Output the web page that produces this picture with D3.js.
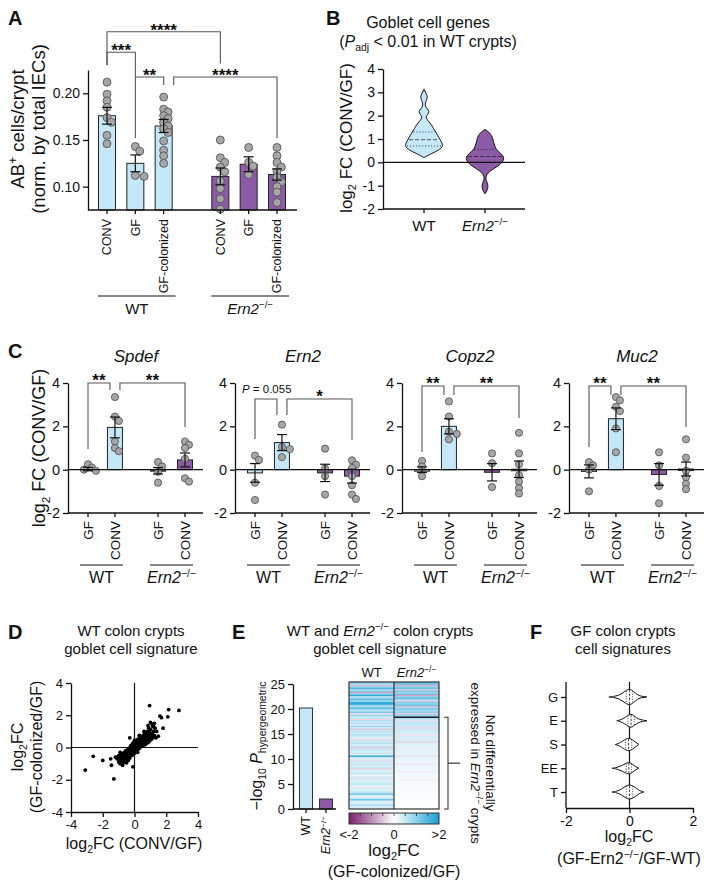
<!DOCTYPE html>
<html>
<head>
<meta charset="utf-8">
<script src="https://cdn.jsdelivr.net/npm/d3@7"></script>
<style>
body { margin: 0; background: #fff; }
svg text { font-family: "Liberation Sans", Arial, sans-serif; fill: #111; }
</style>
</head>
<body>
<svg id="fig" width="708" height="885"></svg>
<script>
// ---- data ----
// A: AB+ cells per crypt
const aGroups = ['WT', 'Ern2'];
const aConditions = ['CONV', 'GF', 'GF-colonized', 'CONV', 'GF', 'GF-colonized'];
const aMean = [0.176, 0.125, 0.165, 0.111, 0.124, 0.113];
const aSem = [0.009, 0.009, 0.007, 0.009, 0.008, 0.006];
const aPoints = [
    [0.212, 0.199, 0.192, 0.185, 0.174, 0.169, 0.155, 0.146],
    [0.143, 0.138, 0.112, 0.111],
    [0.196, 0.183, 0.180, 0.176, 0.173, 0.169, 0.165, 0.162, 0.158, 0.149, 0.139, 0.133, 0.125],
    [0.150, 0.131, 0.126, 0.121, 0.116, 0.106, 0.098, 0.087, 0.076],
    [0.142, 0.126, 0.122, 0.113],
    [0.142, 0.133, 0.126, 0.121, 0.116, 0.110, 0.105, 0.100, 0.094, 0.083],
];
// [from, to, level, dropFrom, dropTo, label]
const aBrackets = [
    [0, 3, 0.266, 0.230, 0.232, '****'],
    [0, 1, 0.244, 0.230, 0.152, '***'],
    [1, 2, 0.2175, 0.2175, 0.209, '**'],
    [2, 5, 0.2175, 0.209, 0.152, '****'],
];

// B: violin profiles [log2FC, density]
const bGroups = ['WT', 'Ern2'];
const bViolinWT = [[0.2, 0], [0.3, 0.2], [0.45, 0.6], [0.6, 0.92], [0.75, 1.0], [0.9, 0.9], [1.05, 0.8], [1.25, 0.65],
    [1.45, 0.5], [1.6, 0.4], [1.75, 0.25], [1.9, 0.1], [2.0, 0.12], [2.12, 0.27], [2.22, 0.25], [2.35, 0.1],
    [2.5, 0.05], [2.65, 0.12], [2.8, 0.2], [2.95, 0.1], [3.15, 0]];
const bViolinKO = [[-1.35, 0], [-1.2, 0.12], [-1.05, 0.16], [-0.9, 0.14], [-0.75, 0.04], [-0.6, 0.05], [-0.45, 0.15],
    [-0.3, 0.4], [-0.15, 0.7], [0.0, 0.92], [0.15, 1.0], [0.3, 0.95], [0.45, 0.72], [0.6, 0.55], [0.8, 0.47],
    [1.0, 0.42], [1.15, 0.35], [1.3, 0.2], [1.42, 0]];
const bQuartiles = [[0.7, 0.97, 1.3], [0.0, 0.25, 0.55]];

// C: qPCR per gene, order WT GF, WT CONV, Ern2 GF, Ern2 CONV
const cGenes = ['Spdef', 'Ern2', 'Copz2', 'Muc2'];
const cConditions = ['GF', 'CONV', 'GF', 'CONV'];
const cMean = [
    [0.03, 1.95, -0.05, 0.45],
    [-0.15, 1.25, -0.15, -0.3],
    [0.0, 2.0, -0.12, 0.02],
    [-0.08, 2.35, -0.22, 0.03],
];
const cSem = [
    [0.08, 0.48, 0.15, 0.32],
    [0.43, 0.37, 0.4, 0.32],
    [0.13, 0.35, 0.4, 0.38],
    [0.3, 0.5, 0.5, 0.32],
];
const cPoints = [
    [[0.25, 0.1, 0.0, -0.05], [3.35, 2.45, 2.25, 1.3, 1.0, 0.85], [0.35, 0.15, -0.1, -0.6], [1.3, 1.15, 1.0, 0.5, -0.4, -0.55]],
    [[0.65, 0.45, -0.6, -1.4], [2.08, 1.05, 0.95, 0.58], [0.97, 0.05, -0.3, -1.15], [0.43, 0.23, 0.08, -0.3, -0.72, -1.15, -1.35]],
    [[0.4, 0.15, -0.3], [3.15, 2.45, 1.75, 1.65, 1.4], [0.75, 0.3, -0.8], [1.7, 0.75, 0.25, -0.25, -0.55, -0.85, -1.1]],
    [[0.35, 0.2, 0.0, -1.0], [3.35, 3.2, 2.9, 2.7, 1.9, 0.8], [0.8, 0.2, -0.75, -1.55], [1.4, 0.55, -0.05, -0.35, -0.65, -0.9]],
];
// [level, drop at WT GF, drop at WT CONV, drop at Ern2 CONV]
const cBrackets = [
    [4.0, 0.95, 3.68, 1.97],
    [3.26, 1.42, 2.52, 1.37],
    [3.86, 0.82, 3.45, 2.39],
    [3.86, 1.05, 3.45, 1.97],
];
const cBracketLabels = [['**', '**'], ['P = 0.055', '*'], ['**', '**'], ['**', '**']];

// D: scatter log2FC (CONV/GF) vs log2FC (GF-colonized/GF)
const dPoints = [
    [-3.1, -1.4], [-2.6, -0.55], [-2.0, -0.8], [-1.3, -1.95], [0.95, 2.6], [1.6, 1.95], [1.7, 1.85], [2.15, 2.35],
    [2.1, 1.9], [2.8, 2.3], [-1.5, -0.7], [-1.45, -1.1], [-1.2, -0.6], [-0.1, -1.2], [-0.3, 0.6], [1.8, 1.2], [1.5, 0.7],
    [-1.1, -0.7], [-1.0, -0.9], [-0.95, -0.6], [-0.9, -1.0], [-0.9, -0.75], [-0.85, -0.5], [-0.8, -0.85], [-0.8, -0.65],
    [-0.75, -0.4], [-0.75, -1.1], [-0.7, -0.7], [-0.7, -0.55], [-0.65, -0.9], [-0.65, -0.3], [-0.6, -0.6], [-0.6, -0.45],
    [-0.55, -0.75], [-0.55, -0.2], [-0.5, -0.5], [-0.5, -0.35], [-0.5, -0.95], [-0.45, -0.6], [-0.45, -0.15], [-0.4, -0.4],
    [-0.4, -0.25], [-0.4, -0.8], [-0.35, -0.5], [-0.35, -0.05], [-0.3, -0.3], [-0.3, -0.65], [-0.3, -0.15], [-0.25, -0.4],
    [-0.25, 0.1], [-0.2, -0.2], [-0.2, -0.5], [-0.2, 0.0], [-0.15, -0.3], [-0.15, 0.2], [-0.1, -0.1], [-0.1, -0.45],
    [-0.1, 0.1], [-0.05, -0.2], [-0.05, 0.3], [0.0, 0.0], [0.0, -0.35], [0.0, 0.15], [0.05, -0.1], [0.05, 0.25],
    [0.1, 0.1], [0.1, -0.25], [0.1, 0.4], [0.15, 0.0], [0.15, 0.2], [0.2, 0.3], [0.2, -0.15], [0.2, 0.5], [0.25, 0.1],
    [0.25, 0.35], [0.3, 0.2], [0.3, 0.55], [0.3, -0.05], [0.35, 0.4], [0.35, 0.15], [0.4, 0.3], [0.4, 0.6], [0.4, 0.05],
    [0.45, 0.45], [0.45, 0.2], [0.5, 0.35], [0.5, 0.7], [0.5, 0.1], [0.55, 0.5], [0.55, 0.25], [0.6, 0.4], [0.6, 0.8],
    [0.6, 0.15], [0.65, 0.55], [0.65, 0.3], [0.7, 0.45], [0.7, 0.9], [0.7, 0.2], [0.75, 0.6], [0.75, 0.35], [0.8, 0.5],
    [0.8, 1.0], [0.85, 0.7], [0.85, 0.3], [0.9, 0.55], [0.9, 0.85], [0.95, 0.4], [1.0, 0.7], [1.0, 1.1], [1.05, 0.5],
    [1.1, 0.85], [1.1, 1.45], [1.15, 0.6], [1.2, 1.0], [1.25, 0.75], [1.3, 1.2], [1.35, 0.6], [1.0, 1.55], [1.15, 1.3],
    [0.9, 1.2], [-0.6, -0.3], [-0.5, -0.65], [-0.4, -0.55], [-0.3, -0.45], [-0.2, -0.35], [-0.1, -0.25], [0.0, -0.15],
    [0.1, 0.0], [0.2, 0.05], [0.3, 0.35], [0.4, 0.45], [0.5, 0.55], [0.6, 0.6], [0.7, 0.65], [0.15, -0.05], [0.05, 0.05],
    [-0.05, -0.05], [0.25, 0.25], [0.35, 0.3], [0.45, 0.35], [0.55, 0.4], [-0.25, -0.25], [-0.35, -0.3], [-0.45, -0.45],
    [-0.55, -0.55], [-0.65, -0.55], [-0.7, -0.9], [-0.8, -0.45], [0.8, 0.75], [0.9, 0.65], [1.0, 0.85], [1.1, 0.7],
    [0.95, 0.95], [1.2, 0.65], [0.75, 0.75], [0.65, 0.7], [-0.15, 0.05], [0.0, 0.45], [-0.1, 0.25], [0.2, -0.3],
    [1.2, 1.3], [1.4, 1.0], [0.6, 1.0], [-0.9, -0.3], [-1.0, -0.5], [0.3, 0.75], [0.85, 1.35], [1.25, 1.5],
];

// E: enrichment bars and heatmap of log2FC (GF-colonized/GF)
const eBarGroups = ['WT', 'Ern2'];
const eBarValues = [20.2, 2.0];
const eHeatWT = [
    1.1, 0.8, -0.6, 0.9, 1.5, 0.8, 1.0, -0.9, 0.9, 1.8, 0.7, 0.9, 1.4, 0.8, 1.6, 2.0, 0.9, 0.7, 1.5, 0.8, 0.6, 1.2, -0.3, 0.8, 0.6,
    0.5, -0.4, 0.7, 0.45, 0.6, 0.35, 0.8, 0.45, -0.5, 0.5, 0.6, 0.35, 0.7, 0.45, 0.3, -0.3, 0.5, 0.45, 0.6, 0.35, 0.5, -0.5, 0.45, 0.5, 0.35, 0.45,
    0.3, 1.8, 0.5, 0.35, -0.3, 0.45, 0.35, 0.5, 0.3, 0.45, -0.4, 0.35, 0.3, 0.5, 0.35, 0.2, 0.45, -0.3, 0.35, 0.3, 0.45, 0.5, 0.3, -0.2,
    0.35, 0.3, 0.45, 0.6, 1.2, 0.35, 0.3, 0.5, 1.3, 0.35, 0.3, 0.45, 0.7, 0.35, 0.3,
];
const eHeatKO = [
    1.4, 1.2, -0.7, 1.0, 1.3, -0.5, 1.1, 0.9, 1.2, -0.8, 1.0, 1.3, 0.9, -0.4, 1.1, 1.0, 1.2, -0.6, 0.9, 1.1, 0.8, 1.0, -0.5, 0.9, 1.0,
    0.6, 0.55, -0.3, 0.55, 0.5, 0.5, 0.45, -0.35, 0.45, 0.45, 0.4, 0.4, -0.25, 0.4, 0.35, 0.35, 0.35, -0.4, 0.3, 0.3,
    0.3, 0.3, -0.2, 0.28, 0.26, 0.25, 0.25, -0.3, 0.23, 0.22, 0.2, 0.2, 0.2, -0.25, 0.18, 0.17, 0.16, 0.15, -0.2, 0.14,
    0.13, 0.12, 0.12, 0.11, -0.15, 0.1, 0.09, 0.09, 0.08, 0.07, -0.1, 0.06, 0.05, 0.05, 0.04, 0.04, 0.03, 0.03, 0.02, 0.02,
    0.01, 0.01, 0.01, 0.0, 0.0,
];
const eSignificantRows = 25;
const eColorStops = [-2, 0, 2];
const eColorTicks = ['<-2', '0', '>2'];

// F: violin profiles [log2FC, density] per signature
const fCategories = ['G', 'E', 'S', 'EE', 'T'];
const fProfiles = [
    [[-0.65, 0], [-0.5, 0.07], [-0.35, 0.18], [-0.2, 0.55], [-0.08, 0.9], [0, 1], [0.08, 0.85], [0.18, 0.5], [0.3, 0.15], [0.42, 0.07], [0.55, 0]],
    [[-0.4, 0], [-0.3, 0.08], [-0.15, 0.35], [-0.05, 0.7], [0.05, 0.85], [0.12, 0.7], [0.22, 0.35], [0.35, 0.12], [0.55, 0]],
    [[-0.45, 0], [-0.35, 0.1], [-0.22, 0.4], [-0.1, 0.75], [-0.02, 0.8], [0.08, 0.65], [0.18, 0.3], [0.3, 0]],
    [[-0.55, 0], [-0.4, 0.08], [-0.2, 0.4], [-0.08, 0.7], [0, 0.72], [0.08, 0.55], [0.18, 0.2], [0.3, 0]],
    [[-0.55, 0], [-0.4, 0.08], [-0.25, 0.35], [-0.1, 0.8], [0, 0.9], [0.1, 0.8], [0.22, 0.45], [0.32, 0.15], [0.45, 0]],
];
const fQuartiles = [[-0.1, 0.0, 0.1], [-0.05, 0.05, 0.15], [-0.12, -0.03, 0.07], [-0.1, -0.02, 0.06], [-0.1, 0.0, 0.1]];

// ---- style ----
const BLUE = '#c5e8f8';
const PURPLE = '#8d5aa7';
const DOT = '#a6a6a6';
const INK = '#111';

const svg = d3.select('#fig');

// text with _{sub}, ^{sup} and *italic* markup
function rich(text, str, fs) {
    const re = /_\{([^}]*)\}|\^\{([^}]*)\}|\*([^*]*)\*|([^_^*]+)/g;
    let m, shift = 0;
    while ((m = re.exec(str))) {
        let t, target = 0, small = false, ital = false;
        if (m[1] !== undefined) { t = m[1]; target = fs * 0.25; small = true; }
        else if (m[2] !== undefined) { t = m[2]; target = -fs * 0.38; small = true; }
        else if (m[3] !== undefined) { t = m[3]; ital = true; }
        else t = m[4];
        const ts = text.append('tspan').text(t);
        if (target - shift) ts.attr('dy', target - shift);
        shift = target;
        if (small) ts.style('font-size', `${fs * 0.65}px`);
        if (ital) ts.style('font-style', 'italic');
    }
    return text;
}

function label(g, x, y, str, fs, opts = {}) {
    const t = g.append('text')
        .attr('x', x).attr('y', y)
        .attr('text-anchor', opts.anchor || 'middle')
        .style('font-size', `${fs}px`);
    if (opts.rotate) t.attr('transform', `rotate(${opts.rotate},${x},${y})`);
    if (opts.weight) t.style('font-weight', opts.weight);
    if (opts.dy) t.attr('dy', opts.dy);
    return opts.raw ? t.text(str) : rich(t, str, fs);
}

function stars(g, x, y, str) {
    return label(g, x, y, str, 17, { weight: 'bold', raw: true });
}

function styleAxis(g, fs) {
    g.select('.domain').attr('stroke', INK).attr('stroke-width', 1.3);
    g.selectAll('.tick line').attr('stroke', INK).attr('stroke-width', 1.3);
    g.selectAll('.tick text').style('font-size', `${fs}px`).attr('fill', INK);
    return g;
}

function hline(g, x1, x2, y, w = 1.3, color = INK) {
    return g.append('line').attr('x1', x1).attr('x2', x2).attr('y1', y).attr('y2', y)
        .attr('stroke', color).attr('stroke-width', w);
}

function vline(g, x, y1, y2, w = 1.3, color = INK) {
    return g.append('line').attr('x1', x).attr('x2', x).attr('y1', y1).attr('y2', y2)
        .attr('stroke', color).attr('stroke-width', w);
}

// simple column swarm so that stacked dots stay mostly on the centre line
function swarm(values, y, cx, r) {
    const placed = [];
    return values.map(v => {
        const py = y(v);
        let px = cx;
        for (const k of [0, 1, -1, 2, -2]) {
            px = cx + k * r * 1.1;
            if (placed.every(p => Math.hypot(p[0] - px, p[1] - py) >= r * 1.3)) break;
        }
        placed.push([px, py]);
        return [px, py];
    });
}

function dots(g, values, y, cx, r) {
    g.selectAll(null)
        .data(swarm(values, y, cx, r))
        .enter()
        .append('circle')
        .attr('cx', d => d[0]).attr('cy', d => d[1]).attr('r', r)
        .attr('fill', DOT).attr('stroke', '#4a4a4a').attr('stroke-width', 0.8);
}

function errorBar(g, cx, y, mean, sem, cap) {
    vline(g, cx, y(mean - sem), y(mean + sem), 1.2);
    hline(g, cx - cap / 2, cx + cap / 2, y(mean + sem), 1.2);
    hline(g, cx - cap / 2, cx + cap / 2, y(mean - sem), 1.2);
}

function bracket(g, xa, xb, ya, level, yb) {
    g.append('path')
        .attr('d', `M${xa},${ya}V${level}H${xb}V${yb}`)
        .attr('fill', 'none').attr('stroke', '#555').attr('stroke-width', 1.1);
}

function panelLetter(x, y, s) {
    svg.append('text').attr('x', x).attr('y', y).text(s)
        .style('font-size', '20px').style('font-weight', 'bold');
}

const plain = d => String(d);

// ---- A ----
(function panelA() {
    const g = svg.append('g');
    const y = d3.scaleLinear().domain([0.075, 0.225]).range([210, 70]);
    const slots = [0, 1, 2, 4, 5, 6];
    const x = d3.scaleLinear().domain([0, 6]).range([107, 277]);
    const left = 88, right = 297;

    panelLetter(8, 25, 'A');

    g.append('g').attr('transform', `translate(${left},0)`)
        .call(d3.axisLeft(y).tickValues([0.10, 0.15, 0.20]).tickFormat(d3.format('.2f')).tickSize(5).tickSizeOuter(0))
        .call(a => styleAxis(a, 14));

    aMean.forEach((m, i) => {
        const cx = x(slots[i]);
        g.append('rect')
            .attr('x', cx - 8.5).attr('width', 17)
            .attr('y', y(m)).attr('height', y.range()[0] - y(m))
            .attr('fill', i < 3 ? BLUE : PURPLE).attr('stroke', '#222').attr('stroke-width', 1);
        dots(g, aPoints[i], y, cx, 4);
        errorBar(g, cx, y, m, aSem[i], 10);
        vline(g, cx, 210, 214);
        label(g, cx, 219, aConditions[i], 12.5, { rotate: -90, anchor: 'end', dy: '0.35em' });
    });
    hline(g, left, right, 210);

    aGroups.forEach((grp, gi) => {
        const x1 = x(slots[gi * 3]) - 9, x2 = x(slots[gi * 3 + 2]) + 12;
        hline(g, x1, x2, 296, 1);
        label(g, (x1 + x2) / 2, 314, grp === 'WT' ? 'WT' : '*Ern2*^{−/−}', 15);
    });

    aBrackets.forEach(([a, b, level, da, db, txt], i) => {
        const xa = x(slots[a]) + (i === 3 ? 10 : 0);
        const xb = x(slots[b]);
        bracket(g, xa, xb, y(da), y(level), y(db));
        stars(g, (xa + xb) / 2, y(level) + 4, txt);
    });

    label(g, 24, 129, 'AB^{+} cells/crypt', 18.5, { rotate: -90 });
    label(g, 45, 129, '(norm. by total IECs)', 18.5, { rotate: -90 });
})();

// ---- B ----
function halfAt(profile, v) {
    for (let i = 1; i < profile.length; i++) {
        const [a, da] = profile[i - 1], [b, db] = profile[i];
        if (v >= a && v <= b) return da + (db - da) * (v - a) / (b - a);
    }
    return 0;
}

(function panelB() {
    const g = svg.append('g');
    const y = d3.scaleLinear().domain([-2, 4]).range([209, 69]);
    const x = d3.scalePoint().domain(bGroups).range([424, 485]);
    const w = d3.scaleLinear().domain([0, 1]).range([0, 19]);
    const left = 383, right = 525;

    panelLetter(326, 25, 'B');
    label(g, 428, 28, 'Goblet cell genes', 16);
    label(g, 428, 47, '(*P*_{adj} < 0.01 in WT crypts)', 16);

    g.append('g').attr('transform', `translate(${left},0)`)
        .call(d3.axisLeft(y).tickValues(d3.range(-2, 5)).tickFormat(plain).tickSize(5).tickSizeOuter(0))
        .call(a => styleAxis(a, 14));
    hline(g, left, right, 209);

    const profiles = [bViolinWT, bViolinKO];
    bGroups.forEach((grp, i) => {
        const cx = x(grp);
        const p = profiles[i];
        g.append('path')
            .datum(p)
            .attr('d', d3.area().y(d => y(d[0])).x0(d => cx - w(d[1])).x1(d => cx + w(d[1])).curve(d3.curveBasis))
            .attr('fill', i === 0 ? BLUE : PURPLE).attr('stroke', INK).attr('stroke-width', 1);
        bQuartiles[i].forEach((q, k) => {
            const hw = w(halfAt(p, q)) * 0.92;
            hline(g, cx - hw, cx + hw, y(q), 1, i === 0 ? '#555' : '#333')
                .attr('stroke-dasharray', k === 1 ? '4,2' : '1.2,1.8');
        });
        vline(g, cx, 209, 213);
        label(g, cx, 231, grp === 'WT' ? 'WT' : '*Ern2*^{−/−}', 15);
    });
    hline(g, left, right, y(0));

    label(g, 352, 138, 'log_{2} FC (CONV/GF)', 17, { rotate: -90 });
})();

// ---- C ----
(function panelC() {
    const y = d3.scaleLinear().domain([-2, 4]).range([513, 383]);
    const slots = [0, 1, 2.6, 3.6];
    panelLetter(8, 358, 'C');
    label(svg, 45, 448, 'log_{2} FC (CONV/GF)', 18, { rotate: -90 });

    cGenes.forEach((gene, gi) => {
        const ax = 68 + gi * 167;
        const g = svg.append('g');
        const x = d3.scaleLinear().domain([0, 3.6]).range([ax + 20, ax + 117]);

        label(g, ax + 68, 362, `*${gene}*`, 17);
        g.append('g').attr('transform', `translate(${ax},0)`)
            .call(d3.axisLeft(y).tickValues([-2, 0, 2, 4]).tickFormat(plain).tickSize(5).tickSizeOuter(0))
            .call(a => styleAxis(a, 14.5));
        hline(g, ax, ax + 135, 513);

        cMean[gi].forEach((m, i) => {
            const cx = x(slots[i]);
            const top = Math.min(y(m), y(0)), h = Math.abs(y(m) - y(0));
            g.append('rect')
                .attr('x', cx - 7.5).attr('width', 15)
                .attr('y', top).attr('height', Math.max(h, 1.5))
                .attr('fill', i < 2 ? BLUE : PURPLE).attr('stroke', '#222').attr('stroke-width', 1);
            dots(g, cPoints[gi][i], y, cx, 3.6);
            errorBar(g, cx, y, m, cSem[gi][i], 10);
            vline(g, cx, 513, 517);
            label(g, cx, 521, cConditions[i], 13.5, { rotate: -90, anchor: 'end', dy: '0.35em' });
        });
        hline(g, ax, ax + 135, y(0));

        [[0, 1], [2, 3]].forEach(([a, b], k) => {
            const x1 = x(slots[a]) - 8, x2 = x(slots[b]) + 8;
            hline(g, x1, x2, 565, 1);
            label(g, (x1 + x2) / 2, 583, k === 0 ? 'WT' : '*Ern2*^{−/−}', 16);
        });

        const [level, dGF, dCONV, dKO] = cBrackets[gi];
        const [l1, l2] = cBracketLabels[gi];
        const xGF = x(slots[0]), xCONV = x(slots[1]), xKO = x(slots[3]);
        bracket(g, xGF, xCONV - 5, y(dGF), y(level), y(dCONV));
        bracket(g, xCONV + 5, xKO, y(dCONV), y(level), y(dKO));
        if (l1.startsWith('P')) {
            label(g, ax + 7, y(level) - 6, '*P* = 0.055', 11.5, { anchor: 'start' });
        } else {
            stars(g, (xGF + xCONV - 5) / 2, y(level) + 3, l1);
        }
        stars(g, (xCONV + 5 + xKO) / 2, y(level) + 3, l2);
    });
})();

// ---- D ----
(function panelD() {
    const g = svg.append('g');
    const x = d3.scaleLinear().domain([-4, 4]).range([71, 198]);
    const y = d3.scaleLinear().domain([-4, 4]).range([812, 683]);
    const ticks = [-4, -2, 0, 2, 4];

    panelLetter(8, 639, 'D');
    label(g, 131, 636, 'WT colon crypts', 15);
    label(g, 131, 654, 'goblet cell signature', 15);

    g.append('g').attr('transform', `translate(${x(-4)},0)`)
        .call(d3.axisLeft(y).tickValues(ticks).tickFormat(plain).tickSize(5).tickSizeOuter(0))
        .call(a => styleAxis(a, 13));
    g.append('g').attr('transform', `translate(0,${y(-4)})`)
        .call(d3.axisBottom(x).tickValues(ticks).tickFormat(plain).tickSize(5).tickSizeOuter(0))
        .call(a => styleAxis(a, 13));
    vline(g, x(0), y(4), y(-4), 1.2);
    hline(g, x(-4), x(4), y(0), 1.2);

    g.selectAll('.pt').data(dPoints).enter().append('circle')
        .attr('cx', d => x(d[0])).attr('cy', d => y(d[1])).attr('r', 1.9).attr('fill', '#000');

    label(g, 23, 747, 'log_{2}FC', 16, { rotate: -90 });
    label(g, 42, 747, '(GF-colonized/GF)', 16, { rotate: -90 });
    label(g, 134, 849, 'log_{2}FC (CONV/GF)', 16);
})();

// ---- E ----
(function panelE() {
    const g = svg.append('g');
    const y = d3.scaleLinear().domain([0, 25]).range([809, 684]);
    const x = d3.scalePoint().domain(eBarGroups).range([306, 326]);

    panelLetter(232, 639, 'E');
    label(g, 380, 636, 'WT and *Ern2*^{−/−} colon crypts', 15);
    label(g, 380, 654, 'goblet cell signature', 15);

    g.append('g').attr('transform', 'translate(293,0)')
        .call(d3.axisLeft(y).tickValues(d3.range(0, 26, 5)).tickFormat(plain).tickSize(5).tickSizeOuter(0))
        .call(a => styleAxis(a, 13));
    eBarGroups.forEach((grp, i) => {
        const cx = x(grp);
        g.append('rect')
            .attr('x', cx - 6.5).attr('width', 13)
            .attr('y', y(eBarValues[i])).attr('height', y(0) - y(eBarValues[i]))
            .attr('fill', i === 0 ? BLUE : PURPLE).attr('stroke', '#333').attr('stroke-width', 1);
        vline(g, cx, 809, 813);
        label(g, cx, 816, grp === 'WT' ? 'WT' : '*Ern2*^{−/−}', 12.5, { rotate: -90, anchor: 'end', dy: '0.35em' });
    });
    hline(g, 293, 336, 809);
    label(g, 262, 746, '−log_{10} *P*_{hypergeometric}', 16, { rotate: -90 });

    // heatmap
    const color = d3.scaleLinear().domain(eColorStops).range(['#7b1f70', '#ffffff', '#189fd6'])
        .interpolate(d3.interpolateRgb).clamp(true);
    const hx = d3.scaleBand().domain(eBarGroups).range([349, 439]);
    const hy = d3.scaleBand().domain(d3.range(eHeatWT.length)).range([682, 809]);
    [eHeatWT, eHeatKO].forEach((col, ci) => {
        g.selectAll(null).data(col).enter().append('rect')
            .attr('x', hx(eBarGroups[ci])).attr('width', hx.bandwidth())
            .attr('y', (d, i) => hy(i)).attr('height', hy.bandwidth() + 0.4)
            .attr('fill', d => color(d));
    });
    g.append('rect').attr('x', 349).attr('y', 682).attr('width', 90).attr('height', 127)
        .attr('fill', 'none').attr('stroke', '#333').attr('stroke-width', 1.2);
    vline(g, hx('Ern2'), 682, 809, 1.2, '#333');
    const split = hy(eSignificantRows);
    hline(g, hx('Ern2'), 439, split, 1.5, '#222');
    label(g, hx('WT') + hx.bandwidth() / 2, 677, 'WT', 13);
    label(g, hx('Ern2') + hx.bandwidth() / 2, 677, '*Ern2*^{−/−}', 13);

    // bracket for non-differential genes
    g.append('path').attr('d', `M444,${split}H448V809H444`)
        .attr('fill', 'none').attr('stroke', '#333').attr('stroke-width', 1.1);
    const mid = (split + 809) / 2;
    hline(g, 448, 460, mid, 1.2, '#333');
    label(g, 486, mid, 'Not differentially', 13.5, { rotate: 90 });
    label(g, 471, mid, 'expressed in *Ern2*^{−/−} crypts', 13.5, { rotate: 90 });

    // colour bar
    const grad = svg.append('defs').append('linearGradient').attr('id', 'fcgrad');
    d3.range(0, 1.001, 0.1).forEach(t => {
        grad.append('stop').attr('offset', t).attr('stop-color', color(-2 + 4 * t));
    });
    const cb = d3.scaleLinear().domain([-2, 2]).range([349, 439]);
    g.append('rect').attr('x', 349).attr('y', 813).attr('width', 90).attr('height', 11)
        .attr('fill', 'url(#fcgrad)').attr('stroke', '#333').attr('stroke-width', 1);
    [-1.5, -1, -0.5, 0, 0.5, 1, 1.5].forEach(t => vline(g, cb(t), 813, 816, 0.8, '#333'));
    eColorStops.forEach((s, i) => label(g, cb(s), 839, eColorTicks[i], 13));
    label(g, 394, 856, 'log_{2}FC', 17);
    label(g, 394, 877, '(GF-colonized/GF)', 16);
})();

// ---- F ----
(function panelF() {
    const g = svg.append('g');
    const x = d3.scaleLinear().domain([-2, 2]).range([566, 693]);
    const y = d3.scalePoint().domain(fCategories).range([697, 792]);
    const h = d3.scaleLinear().domain([0, 1]).range([0, 8]);

    panelLetter(530, 639, 'F');
    label(g, 623, 636, 'GF colon crypts', 15);
    label(g, 623, 654, 'cell signatures', 15);

    g.append('g').attr('transform', 'translate(566,0)')
        .call(d3.axisLeft(y).tickSize(5).tickSizeOuter(0))
        .call(a => styleAxis(a, 13))
        .call(a => a.select('.domain').remove());
    vline(g, 566, 682, 808);
    g.append('g').attr('transform', 'translate(0,808)')
        .call(d3.axisBottom(x).tickValues([-2, 0, 2]).tickFormat(plain).tickSize(5).tickSizeOuter(0))
        .call(a => styleAxis(a, 14));
    vline(g, x(0), 682, 808, 1.2);

    fCategories.forEach((c, i) => {
        const cy = y(c);
        const p = fProfiles[i];
        g.append('path').datum(p)
            .attr('d', d3.area().x(d => x(d[0])).y0(d => cy - h(d[1])).y1(d => cy + h(d[1])).curve(d3.curveBasis))
            .attr('fill', '#fff').attr('stroke', INK).attr('stroke-width', 1);
        fQuartiles[i].forEach((q, k) => {
            const hh = h(halfAt(p, q)) * 0.9;
            vline(g, x(q), cy - hh, cy + hh, 0.9, '#333').attr('stroke-dasharray', k === 1 ? '2.5,1.5' : '1,1.5');
        });
    });

    label(g, 629, 842, 'log_{2}FC', 16);
    label(g, 629, 864, '(GF-Ern2^{−/−}/GF-WT)', 16);
})();
</script>
</body>
</html>
